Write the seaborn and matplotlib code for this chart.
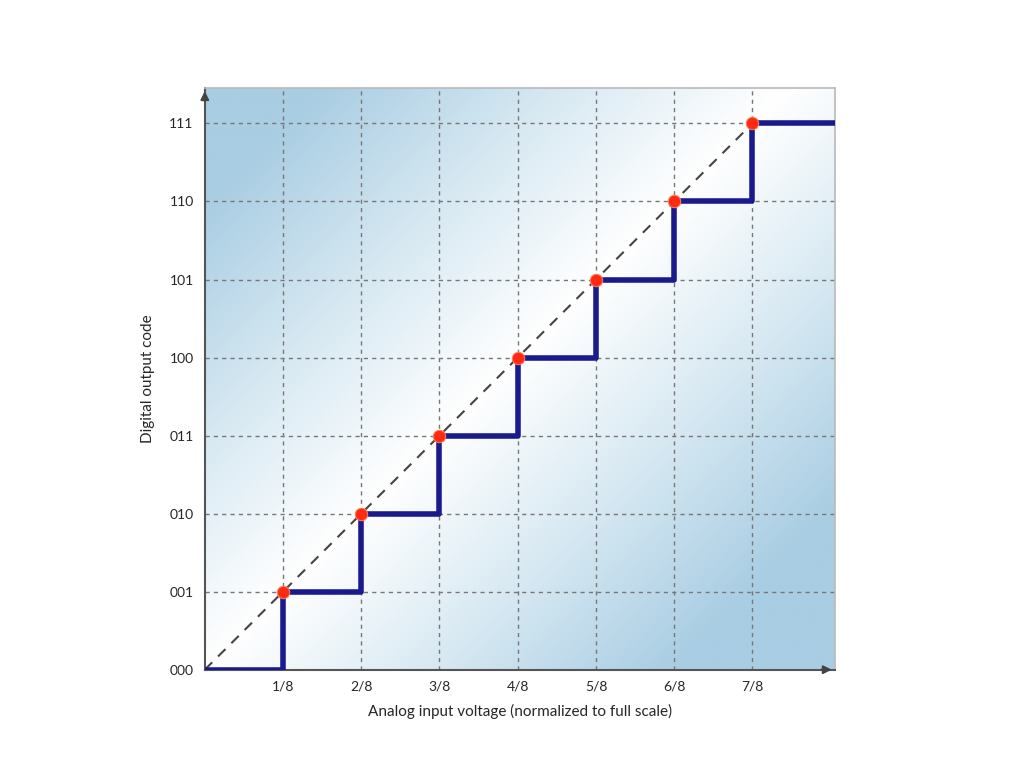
import numpy as np
import matplotlib
matplotlib.use("Agg")
import matplotlib.pyplot as plt
import seaborn as sns
import pandas as pd
from matplotlib.colors import LinearSegmentedColormap

sns.set_theme(style="white")
plt.rcParams['font.family'] = ['Lato', 'DejaVu Sans']

x_ticks = [1, 2, 3, 4, 5, 6, 7]
x_labels = ["1/8", "2/8", "3/8", "4/8", "5/8", "6/8", "7/8"]
y_ticks = [0, 1, 2, 3, 4, 5, 6, 7]
y_labels = ["000", "001", "010", "011", "100", "101", "110", "111"]
step_x = [0, 1, 1, 2, 2, 3, 3, 4, 4, 5, 5, 6, 6, 7, 7, 8.05]
step_y = [0, 0, 1, 1, 2, 2, 3, 3, 4, 4, 5, 5, 6, 6, 7, 7]
pts_x = [1, 2, 3, 4, 5, 6, 7]
pts_y = [1, 2, 3, 4, 5, 6, 7]

fig = plt.figure(figsize=(10.24, 7.68), dpi=100)
ax = fig.add_axes([0.2, 0.128, 0.615, 0.757])
xmax, ymax = 8.05, 7.45

# gradient background
gx, gy = np.meshgrid(np.linspace(0, xmax, 300), np.linspace(0, ymax, 300))
d = np.abs(gx - gy) / 6.0
cmap = LinearSegmentedColormap.from_list("bg", ["#ffffff", "#d6e8f2", "#a9cde3"])
ax.imshow(np.clip(d, 0, 1), extent=[0, xmax, 0, ymax], origin="lower", cmap=cmap,
          aspect="auto", zorder=0)

for v in x_ticks:
    ax.axvline(v, color="#777777", ls=(0, (3, 3)), lw=1, zorder=1)
for v in y_ticks[1:]:
    ax.axhline(v, color="#777777", ls=(0, (3, 3)), lw=1, zorder=1)

ax.plot([0, 7], [0, 7], color="#444444", ls=(0, (5, 4)), lw=1.5, zorder=2)
sns.lineplot(x=step_x, y=step_y, sort=False, estimator=None, color="#1a1a8c",
             lw=4, ax=ax, zorder=3)
sns.scatterplot(x=pts_x, y=pts_y, color="#ff2a10", edgecolor="#ff8060", s=80,
                ax=ax, zorder=4)

ax.set_xlim(0, xmax)
ax.set_ylim(0, ymax)
ax.set_xticks(x_ticks)
ax.set_xticklabels(x_labels, fontsize=10)
ax.set_yticks(y_ticks)
ax.set_yticklabels(y_labels, fontsize=10)
ax.tick_params(length=0, pad=8)
for s in ax.spines.values():
    s.set_color("#bbbbbb")
ax.spines['left'].set_color("#555555"); ax.spines['left'].set_linewidth(1.5)
ax.spines['bottom'].set_color("#555555"); ax.spines['bottom'].set_linewidth(1.5)
ax.annotate("", xy=(xmax, 0), xytext=(xmax - 0.2, 0),
            arrowprops=dict(arrowstyle="-|>", color="#444444", lw=1.5), annotation_clip=False)
ax.annotate("", xy=(0, ymax), xytext=(0, ymax - 0.2),
            arrowprops=dict(arrowstyle="-|>", color="#444444", lw=1.5), annotation_clip=False)
ax.set_xlabel("Analog input voltage (normalized to full scale)", fontsize=11, labelpad=8)
ax.set_ylabel("Digital output code", fontsize=11, labelpad=10)

fig.savefig("out.png", dpi=100)
